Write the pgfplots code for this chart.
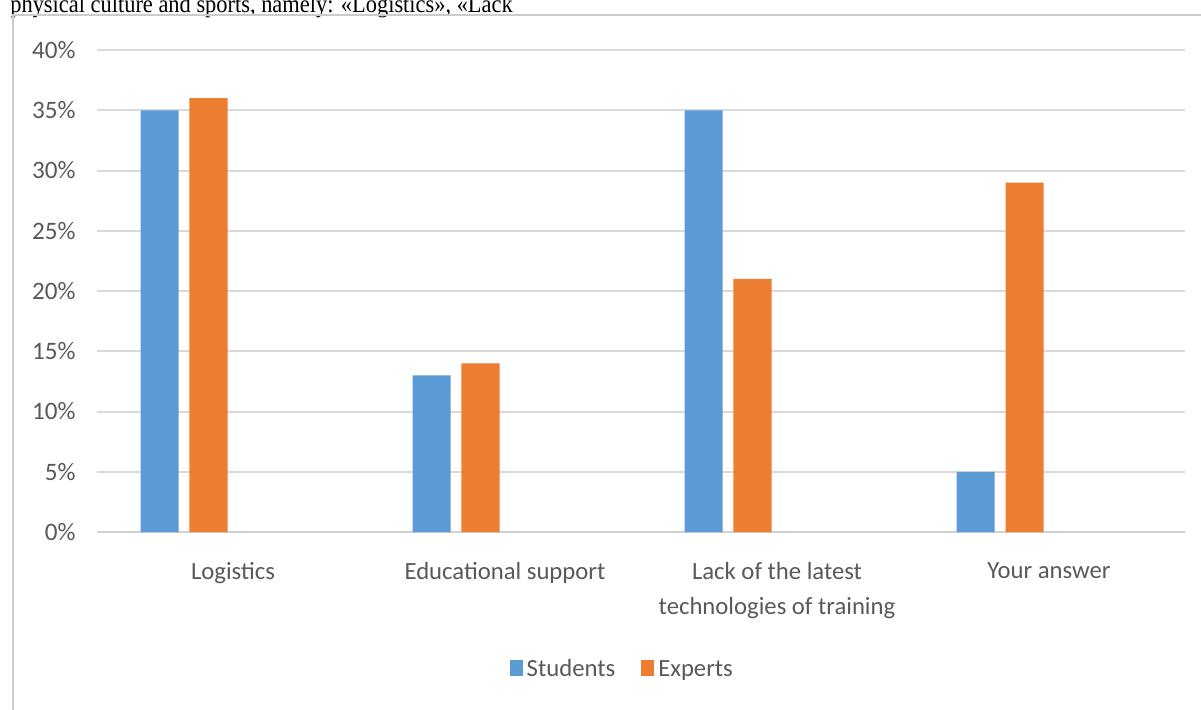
\documentclass[border=0pt]{standalone}
\usepackage{pgfplots}
\pgfplotsset{compat=1.18}
\usepackage{fontspec}
\setmainfont{Carlito}
\newfontfamily\timesfont{Liberation Serif}
\definecolor{sblue}{HTML}{5B9BD5}
\definecolor{sorange}{HTML}{ED7D31}
\definecolor{gridc}{HTML}{D9D9D9}
\definecolor{txt}{HTML}{595959}
\begin{document}
\begin{tikzpicture}[x=1bp,y=1bp]
\path[use as bounding box, clip] (0,0) rectangle (600.5,354.5);
\fill[white] (0,0) rectangle (600.5,354.5);
\node[anchor=base west, inner sep=0, xscale=0.9, font=\timesfont\fontsize{12.5}{15}\selectfont] at (5,348.5) {physical culture and sports, namely: «Logistics», «Lack};
\draw[gridc!85!gray, line width=1bp] (6.5,-1) -- (6.5,347) -- (602,347);
\begin{axis}[
  at={(48.5bp,88.5bp)}, anchor=south west,
  scale only axis, width=544bp, height=241bp,
  xmin=-0.5, xmax=3.5, ymin=0, ymax=40,
  ybar, bar width=0.14,
  axis x line*=bottom, axis y line*=left,
  y axis line style={draw=none},
  x axis line style={gridc!90!gray, line width=1bp},
  major tick length=0pt,
  ymajorgrids, grid style={gridc, line width=1bp},
  ytick={0,5,...,40},
  yticklabel={\pgfmathprintnumber{\tick}\%},
  /pgf/number format/assume math mode=true,
  yticklabel style={anchor=east, inner sep=0pt, xshift=-10.5bp, font=\fontsize{12.6}{14}\selectfont, text=txt},
  xtick={0,1,2,3},
  xticklabels={Logistics, Educational support, {Lack of the latest\\technologies of training}, Your answer},
  xticklabel style={anchor=north, align=center, inner sep=0pt, yshift=-15bp, font=\fontsize{12.4}{17.5}\selectfont, text=txt},
  legend columns=2,
  legend style={at={(0.4837,-0.286)}, anchor=center, draw=none, fill=none,
    font=\fontsize{12.4}{14}\selectfont, text=txt,
    /tikz/every even column/.append style={column sep=11bp}},
  legend image code/.code={\fill[#1] (-2bp,-3bp) rectangle (4.5bp,5bp);},
]
\addplot[fill=sblue, draw=none, bar shift=-0.27] coordinates {(0,35) (1,13) (2,35) (3,5)};
\addplot[fill=sorange, draw=none, bar shift=-0.09] coordinates {(0,36) (1,14) (2,21) (3,29)};
\legend{Students, Experts}
\end{axis}
\end{tikzpicture}
\end{document}
